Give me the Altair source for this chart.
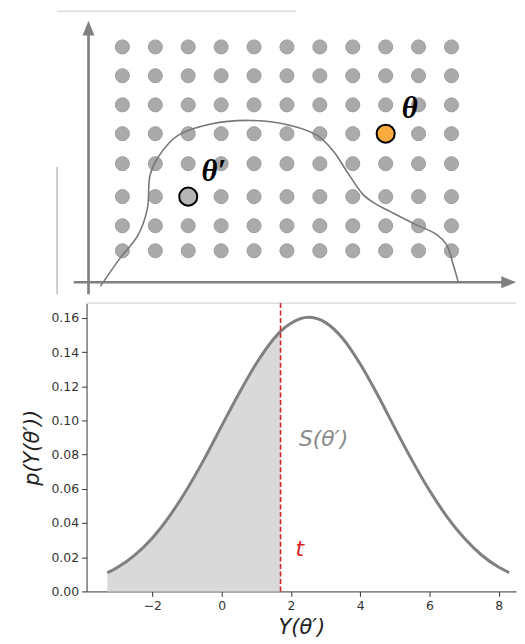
import altair as alt
import pandas as pd

# ---------------- top schematic (grid units) ----------------
grid_cols = list(range(1, 12))
grid_rows = [1.07, 1.92, 2.91, 4.03, 5.05, 6.03, 7.02, 8.0]
highlight_names = ["θ′", "θ"]
highlight_cols = [3, 9]
highlight_rows = [2.91, 5.05]
highlight_fill = ["#b5b5b5", "#fbab3e"]
label_cols = [3.78, 9.73]
label_rows = [3.75, 5.88]
curve_c = [0.33, 0.93, 1.48, 1.76, 1.84, 2.09, 2.69, 3.69, 4.90, 6.11, 6.92,
           7.43, 7.83, 8.33, 8.73, 9.14, 9.84, 10.55, 10.85, 11.05, 11.20]
curve_v = [-0.14, 0.82, 1.61, 2.51, 3.64, 4.26, 4.99, 5.38, 5.50, 5.33, 4.99,
           4.43, 3.75, 2.96, 2.64, 2.40, 2.00, 1.62, 1.28, 0.61, 0.03]

# ---------------- bottom density ----------------
y_vals = [-3.3, -3.0, -2.5, -2.0, -1.5, -1.0, -0.5, 0.0, 0.5, 1.0, 1.5, 1.7, 2.0,
          2.5, 3.0, 3.5, 4.0, 4.5, 5.0, 5.5, 6.0, 6.5, 7.0, 7.5, 8.0, 8.3]
dens_vals = [0.0109, 0.0141, 0.0214, 0.0313, 0.0442, 0.0598, 0.0775, 0.0968, 0.1158,
             0.1333, 0.1476, 0.1521, 0.1568, 0.1603, 0.1572, 0.1478, 0.1330, 0.1150,
             0.0955, 0.0765, 0.0590, 0.0438, 0.0312, 0.0213, 0.0141, 0.0110]
t_value = 1.7
x_ticks = [-2, 0, 2, 4, 6, 8]
y_ticks = [0.0, 0.02, 0.04, 0.06, 0.08, 0.10, 0.12, 0.14, 0.16]
annot_texts = ["S(θ′)", "t"]

# ---------------- build top ----------------
W = 432
TOP_H = 288
XS = alt.Scale(domain=[-0.09, 12.961], nice=False, zero=False)
YS = alt.Scale(domain=[-0.507, 9.226], nice=False, zero=False)
AX = "#808080"


def xq(f):
    return alt.X(f + ":Q", scale=XS, axis=None)


def yq(f):
    return alt.Y(f + ":Q", scale=YS, axis=None)


grid_df = pd.DataFrame([{"c": c, "v": r} for r in grid_rows for c in grid_cols])
hl_df = pd.DataFrame({"name": highlight_names, "c": highlight_cols, "v": highlight_rows,
                      "fill": highlight_fill, "lc": label_cols, "lv": label_rows})
curve_df = pd.DataFrame({"i": list(range(len(curve_c))), "c": curve_c, "v": curve_v})

dots = alt.Chart(grid_df).mark_point(filled=True, size=200, fill="#aaaaaa",
                                     stroke="#9c9c9c", strokeWidth=1, opacity=1).encode(
    x=xq("c"), y=yq("v"))

curve = alt.Chart(curve_df).mark_line(color="#777777", strokeWidth=1.6,
                                      interpolate="catmull-rom").encode(
    x=xq("c"), y=yq("v"), order="i:Q")

hl = alt.Chart(hl_df).mark_point(filled=True, size=330, stroke="black",
                                 strokeWidth=2, opacity=1).encode(
    x=xq("c"), y=yq("v"), fill=alt.Fill("fill:N", scale=None))

hl_lab = alt.Chart(hl_df).mark_text(font="Liberation Serif", fontStyle="italic",
                                    fontWeight="bold", fontSize=31, color="black",
                                    align="center", baseline="middle").encode(
    x=xq("lc"), y=yq("lv"), text="name:N")

# axis arrows of the schematic (vertical: x fixed, horizontal: y fixed)
vlines = pd.DataFrame({"c": [-0.03, -0.985], "v": [-0.41, 3.92], "v2": [8.45, -0.405],
                       "kind": ["axis", "edge"]})
hlines = pd.DataFrame({"c": [-0.48, -0.985], "c2": [12.55, 6.27], "v": [0.0, 9.21],
                       "kind": ["axis", "edge"]})
heads = pd.DataFrame({"c": [-0.03], "v": [8.64]})
heads_r = pd.DataFrame({"c": [12.74], "v": [0.0]})

yaxis_line = alt.Chart(vlines).transform_filter(alt.datum.kind == "axis").mark_rule(
    color=AX, strokeWidth=2.7).encode(x=xq("c"), y=yq("v"), y2="v2:Q")
edge_left = alt.Chart(vlines).transform_filter(alt.datum.kind == "edge").mark_rule(
    color="#9a9a9a", strokeWidth=1).encode(x=xq("c"), y=yq("v"), y2="v2:Q")
xaxis_line = alt.Chart(hlines).transform_filter(alt.datum.kind == "axis").mark_rule(
    color=AX, strokeWidth=2.7).encode(x=xq("c"), x2="c2:Q", y=yq("v"))
edge_top = alt.Chart(hlines).transform_filter(alt.datum.kind == "edge").mark_rule(
    color="#dddddd", strokeWidth=1.5).encode(x=xq("c"), x2="c2:Q", y=yq("v"))
yaxis_head = alt.Chart(heads).mark_point(shape="M0,-1L0.8,1L-0.8,1Z", filled=True,
                                         size=225, color=AX, opacity=1).encode(
    x=xq("c"), y=yq("v"))
xaxis_head = alt.Chart(heads_r).mark_point(shape="M1,0L-1,0.8L-1,-0.8Z", filled=True,
                                           size=225, color=AX, opacity=1).encode(
    x=xq("c"), y=yq("v"))

top = alt.layer(edge_top, edge_left, dots, curve, xaxis_line, yaxis_line,
                xaxis_head, yaxis_head, hl, hl_lab).properties(width=W, height=TOP_H)

# ---------------- build bottom ----------------
dens_df = pd.DataFrame({"y_val": y_vals, "density": dens_vals})
BXS = alt.Scale(domain=[-3.9, 8.496], nice=False, zero=False)
BYS = alt.Scale(domain=[0, 0.1686], nice=False, zero=True)

X_AXIS = alt.Axis(values=x_ticks, title="Y(θ′)", grid=False, titlePadding=5,
                  labelOverlap=False)
Y_AXIS = alt.Axis(values=y_ticks, format=".2f", title="p(Y(θ′))", grid=False,
                  titlePadding=8, labelOverlap=False)


def bx():
    return alt.X("y_val:Q", scale=BXS, axis=X_AXIS)


def by():
    return alt.Y("density:Q", scale=BYS, axis=Y_AXIS)


area = alt.Chart(dens_df).transform_filter(alt.datum.y_val <= t_value).mark_area(
    color="#d9d9d9", opacity=1, interpolate="monotone").encode(x=bx(), y=by())
line = alt.Chart(dens_df).mark_line(color="#808080", strokeWidth=3,
                                    interpolate="monotone").encode(x=bx(), y=by())

spine_df = pd.DataFrame({"density": [0.1686]})
spine_top = alt.Chart(spine_df).mark_rule(color="#e0e0e0", strokeWidth=2).encode(
    y=by())
t_df = pd.DataFrame({"y_val": [t_value]})
t_rule = alt.Chart(t_df).mark_rule(color="#d62728", strokeWidth=1.6,
                                   strokeDash=[5, 2.5]).encode(x=bx())

annot_df = pd.DataFrame({"label": annot_texts, "y_val": [2.23, 2.13],
                         "density": [0.085, 0.021]})
s_text = alt.Chart(annot_df).transform_filter(alt.datum.label != "t").mark_text(
    font="DejaVu Sans", fontStyle="italic", fontSize=22, color="#8a8a8a",
    align="left", baseline="alphabetic").encode(x=bx(), y=by(), text="label:N")
t_text = alt.Chart(annot_df).transform_filter(alt.datum.label == "t").mark_text(
    font="DejaVu Sans", fontStyle="italic", fontSize=22, color="#d62728",
    align="left", baseline="alphabetic").encode(x=bx(), y=by(), text="label:N")

bottom = alt.layer(area, spine_top, line, t_rule, s_text, t_text).properties(
    width=W, height=290)

chart = alt.vconcat(top, bottom, spacing=5).properties(
    padding={"left": 14, "top": 0, "right": 0, "bottom": 0}
).configure_view(stroke=None).configure_axis(
    labelFont="DejaVu Sans", labelFontSize=12.5, labelColor="#333333",
    domainColor="#333333", tickColor="#333333", tickSize=5, labelPadding=3,
    titleFont="DejaVu Sans", titleFontStyle="italic", titleFontWeight="normal",
    titleFontSize=21, titleColor="#222222"
)

chart.save("out.html", embed_options={"renderer": "svg", "actions": False})
